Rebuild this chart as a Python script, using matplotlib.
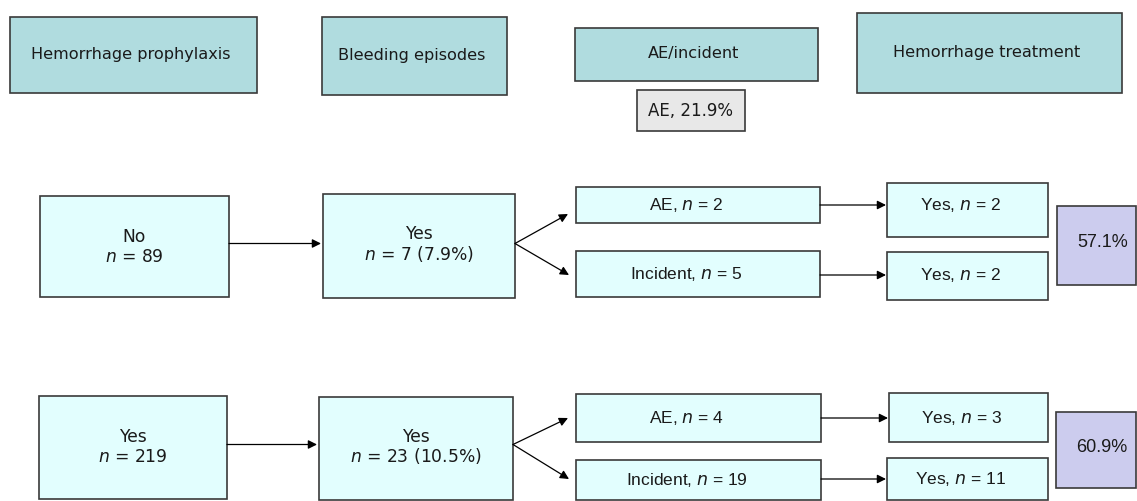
import matplotlib
matplotlib.use("Agg")
import matplotlib.pyplot as plt
from matplotlib.patches import Rectangle

plt.rcParams['mathtext.fontset'] = 'custom'
plt.rcParams['mathtext.it'] = 'DejaVu Sans:italic'
plt.rcParams['mathtext.rm'] = 'DejaVu Sans'

# data
headers = ["Hemorrhage prophylaxis", "Bleeding episodes", "AE/incident", "Hemorrhage treatment"]
ae_share = 21.9
prophylaxis = ["No", "Yes"]
group_n = [89, 219]
bleed_n = [7, 23]
bleed_pct = [7.9, 10.5]
ae_n = [2, 4]
incident_n = [5, 19]
treated_ae = [2, 3]
treated_incident = [2, 11]
treated_pct = [57.1, 60.9]

# layout (pixel boxes: x0, x1, y0, y1)
head_boxes = [(10, 257, 17, 93), (322, 507, 17, 95), (575, 818, 28, 81), (857, 1122, 13, 93)]
share_box = (637, 745, 90, 131)
rows = [
    dict(group=(40, 229, 196, 297), bleed=(323, 515, 194, 298),
         ae=(576, 820, 187, 223), inc=(576, 820, 251, 297),
         tae=(887, 1048, 183, 237), tinc=(887, 1048, 252, 300),
         pct=(1057, 1136, 206, 285), split=(214, 275)),
    dict(group=(39, 227, 396, 499), bleed=(319, 513, 397, 500),
         ae=(576, 821, 394, 442), inc=(576, 821, 460, 500),
         tae=(889, 1048, 393, 442), tinc=(887, 1048, 458, 500),
         pct=(1056, 1136, 412, 488), split=(418, 479)),
]

head_fill = "#b0dcdf"
box_fill = "#e2fefe"
share_fill = "#e8e8e8"
pct_fill = "#ccccee"
edge = "#3a3a3a"
txt = "#1a1a1a"
wide = "DejaVu Sans"
narrow = ["Liberation Sans Narrow", "Liberation Sans"]

fig = plt.figure(figsize=(11.37, 5.01), dpi=100)
ax = fig.add_axes([0, 0, 1, 1])
ax.set_xlim(0, 1137)
ax.set_ylim(501, 0)
ax.axis("off")


def box(b, fill):
    x0, x1, y0, y1 = b
    ax.add_patch(Rectangle((x0, y0), x1 - x0, y1 - y0, facecolor=fill,
                           edgecolor=edge, linewidth=1.2))
    return (x0 + x1) / 2, (y0 + y1) / 2


def arrow(p, q):
    ax.annotate("", xy=q, xytext=p,
                arrowprops=dict(arrowstyle="-|>", color="black", lw=0.9,
                                mutation_scale=13, shrinkA=0, shrinkB=0))


for h, b in zip(headers, head_boxes):
    cx, cy = box(b, head_fill)
    ax.text(cx - 3, cy - 1, h, ha="center", va="center", fontsize=11.6, family=wide, color=txt)

cx, cy = box(share_box, share_fill)
ax.text(cx, cy, f"AE, {ae_share}%", ha="center", va="center", fontsize=12, family=wide, color=txt)

for i, r in enumerate(rows):
    cx, cy = box(r["group"], box_fill)
    ax.text(cx, cy - 10, prophylaxis[i], ha="center", va="center", fontsize=12.3, family=wide, color=txt)
    ax.text(cx, cy + 10, f"$n$ = {group_n[i]}", ha="center", va="center", fontsize=12.3, family=wide, color=txt)

    bx, by = box(r["bleed"], box_fill)
    ax.text(bx, by - 12, "Yes", ha="center", va="center", fontsize=12.3, family=wide, color=txt)
    ax.text(bx, by + 8, f"$n$ = {bleed_n[i]} ({bleed_pct[i]}%)", ha="center", va="center",
            fontsize=12.3, family=wide, color=txt)
    ay = (r["group"][2] + r["group"][3]) / 2 - 3
    arrow((r["group"][1], ay), (r["bleed"][0] - 2, ay))

    ex, ey = box(r["ae"], box_fill)
    ax.text(ex - 12, ey, f"AE, $n$ = {ae_n[i]}", ha="center", va="center", fontsize=12.5,
            family=narrow, color=txt)
    ix, iy = box(r["inc"], box_fill)
    ax.text(ix - 12, iy, f"Incident, $n$ = {incident_n[i]}", ha="center", va="center",
            fontsize=12.5, family=narrow, color=txt)
    arrow((r["bleed"][1], ay), (r["ae"][0] - 8, r["split"][0]))
    arrow((r["bleed"][1], ay), (r["inc"][0] - 7, r["split"][1]))

    tx, ty = box(r["tae"], box_fill)
    ax.text(tx - 7, ey, f"Yes, $n$ = {treated_ae[i]}", ha="center", va="center", fontsize=12.5,
            family=narrow, color=txt)
    arrow((r["ae"][1], ey), (r["tae"][0] - 1, ey))
    ux, uy = box(r["tinc"], box_fill)
    ax.text(ux - 7, r["split"][1], f"Yes, $n$ = {treated_incident[i]}", ha="center", va="center",
            fontsize=12.5, family=narrow, color=txt)
    arrow((r["inc"][1], r["split"][1]), (r["tinc"][0] - 1, r["split"][1]))

    px, py = box(r["pct"], pct_fill)
    ax.text(px + 6, py - 3, f"{treated_pct[i]}%", ha="center", va="center", fontsize=13,
            family=narrow, color=txt)

fig.savefig("out.png", dpi=100, facecolor="white")
